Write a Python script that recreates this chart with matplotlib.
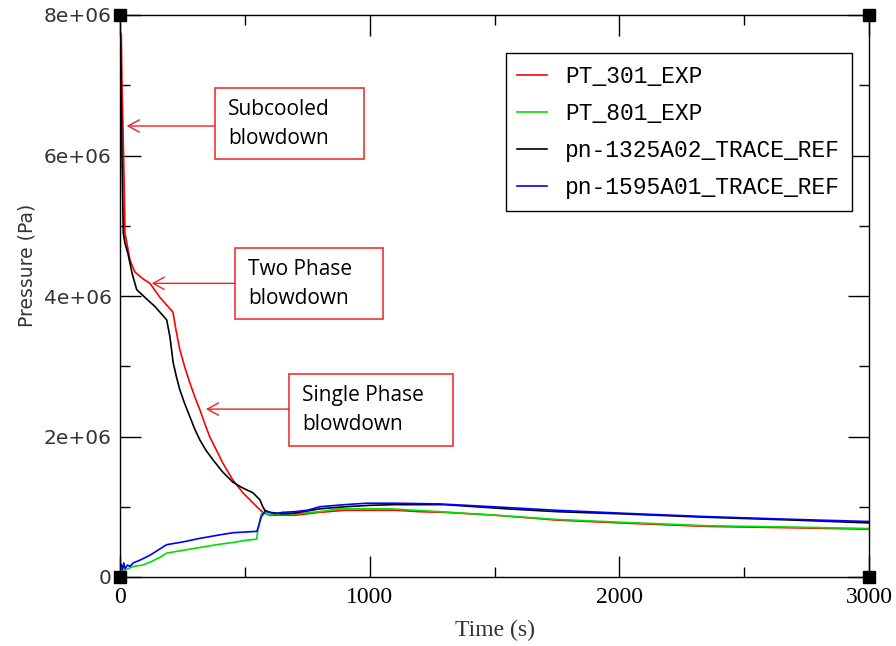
import numpy as np
import matplotlib
matplotlib.use("Agg")
import matplotlib.pyplot as plt
from matplotlib.ticker import MultipleLocator, FuncFormatter
from matplotlib.patches import Rectangle

# PT_301_EXP (Pa x 1e6)
t_pt301 = [0, 5, 8, 12, 16, 20, 40, 60, 90, 120, 160, 212, 225, 240, 260, 280, 300, 320, 340, 360,
           390, 412, 452, 492, 520, 548, 572, 600, 650, 700, 800, 900, 1000, 1100, 1200, 1300, 1500,
           1750, 2000, 2350, 2700, 3000]
p_pt301 = [7.74, 7.74, 7.0, 6.4, 5.7, 4.9, 4.51, 4.34, 4.25, 4.18, 3.98, 3.77, 3.5, 3.23, 2.98, 2.76,
           2.56, 2.38, 2.18, 1.99, 1.78, 1.62, 1.38, 1.2, 1.1, 1.0, 0.92, 0.88, 0.88, 0.88, 0.92, 0.95,
           0.95, 0.95, 0.93, 0.92, 0.88, 0.81, 0.77, 0.72, 0.70, 0.68]

# PT_801_EXP
t_pt801 = [0, 20, 53, 90, 120, 160, 187, 253, 320, 387, 450, 500, 548, 552, 560, 567, 600, 650, 700,
           800, 880, 1080, 1280, 1500, 1747, 2000, 2347, 2700, 3000]
p_pt801 = [0.05, 0.1, 0.15, 0.17, 0.21, 0.28, 0.34, 0.38, 0.42, 0.46, 0.49, 0.52, 0.54, 0.67, 0.8,
           0.91, 0.89, 0.89, 0.9, 0.93, 0.97, 0.97, 0.93, 0.88, 0.82, 0.78, 0.73, 0.71, 0.69]

# pn-1325A02_TRACE_REF
t_pn1325 = [0, 2, 5, 8, 13, 20, 32, 50, 67, 100, 140, 187, 200, 213, 226, 240, 260, 280, 300, 320,
            345, 372, 410, 452, 490, 532, 560, 572, 580, 600, 650, 700, 750, 800, 900, 1000, 1100,
            1300, 1550, 1750, 2000, 2350, 2700, 3000]
p_pn1325 = [7.8, 7.6, 6.8, 6.0, 4.9, 4.75, 4.6, 4.3, 4.09, 3.98, 3.85, 3.66, 3.42, 3.05, 2.85, 2.66,
            2.46, 2.28, 2.1, 1.95, 1.8, 1.67, 1.5, 1.35, 1.27, 1.2, 1.1, 1.0, 0.95, 0.92, 0.90, 0.91,
            0.94, 0.97, 1.0, 1.02, 1.03, 1.03, 0.97, 0.93, 0.90, 0.85, 0.81, 0.77]

# pn-1595A01_TRACE_REF
t_pn1595 = [0, 5, 10, 15, 20, 30, 40, 53, 80, 120, 160, 187, 220, 253, 320, 400, 452, 500, 548, 555,
            565, 580, 590, 620, 650, 700, 750, 800, 900, 987, 1100, 1280, 1547, 1747, 2000, 2347,
            2700, 3000]
p_pn1595 = [0.08, 0.18, 0.1, 0.2, 0.12, 0.17, 0.15, 0.2, 0.24, 0.31, 0.4, 0.46, 0.48, 0.5, 0.55, 0.6,
            0.63, 0.64, 0.65, 0.72, 0.85, 0.93, 0.93, 0.9, 0.92, 0.93, 0.95, 1.0, 1.03, 1.05, 1.05,
            1.04, 0.99, 0.95, 0.91, 0.86, 0.82, 0.79]

# anotacoes: texto, ponta da seta (t, p), caixa (t0, t1, p0, p1)
notas = ["Subcooled\nblowdown", "Two Phase\nblowdown", "Single Phase\nblowdown"]
setas = [(27, 6.42), (127, 4.18), (344, 2.39)]
caixas = [(380, 978, 5.95, 6.96), (460, 1054, 3.67, 4.68), (676, 1333, 1.87, 2.89)]

fig = plt.figure(figsize=(8.96, 6.46), dpi=100)
ax = fig.add_axes([120 / 896, 1 - 577 / 646, 749 / 896, 562 / 646])

ax.plot(t_pt301, np.array(p_pt301) * 1e6, color="#ff0000", lw=1.2, label="PT_301_EXP")
ax.plot(t_pt801, np.array(p_pt801) * 1e6, color="#00e000", lw=1.2, label="PT_801_EXP")
ax.plot(t_pn1325, np.array(p_pn1325) * 1e6, color="black", lw=1.2, label="pn-1325A02_TRACE_REF")
ax.plot(t_pn1595, np.array(p_pn1595) * 1e6, color="#0000ff", lw=1.2, label="pn-1595A01_TRACE_REF")

ax.set_xlim(0, 3000)
ax.set_ylim(0, 8e6)

# eixos e ticks
ax.xaxis.set_major_locator(MultipleLocator(1000))
ax.xaxis.set_minor_locator(MultipleLocator(500))
ax.yaxis.set_major_locator(MultipleLocator(2e6))
ax.yaxis.set_minor_locator(MultipleLocator(1e6))
ax.yaxis.set_major_formatter(FuncFormatter(lambda v, pos: "0" if v == 0 else f"{v:.0e}"))
ax.tick_params(which="both", direction="in", top=True, right=True, width=1, color="black")
ax.tick_params(which="major", length=15)
ax.tick_params(which="minor", length=7)
ax.tick_params(axis="x", pad=7)
ax.tick_params(axis="y", pad=6)
for lab in ax.get_xticklabels():
    lab.set_fontfamily("Liberation Serif")
    lab.set_fontsize(17)
for lab in ax.get_yticklabels():
    lab.set_fontfamily("DejaVu Sans")
    lab.set_fontsize(14.5)
    lab.set_color("#333333")
for s in ax.spines.values():
    s.set_linewidth(1)

ax.set_xlabel("Time (s)", fontfamily="Liberation Serif", fontsize=17, color="#333333", labelpad=9)
ax.set_ylabel("Pressure (Pa)", fontfamily="DejaVu Sans", fontsize=13.5, color="#333333")
ax.yaxis.set_label_coords(-0.112, 0.555)

# quadrados pretos nos cantos
ax.plot([0, 1, 0, 1], [0, 0, 1, 1], "s", color="black", ms=8, transform=ax.transAxes, clip_on=False)

# legenda
leg = ax.legend(loc="upper right", bbox_to_anchor=(0.977, 0.932), prop={"family": "Liberation Mono", "size": 16.5},
                fancybox=False, edgecolor="black", framealpha=1, handlelength=1.3, handletextpad=0.8,
                labelspacing=0.62, borderpad=0.5, borderaxespad=0)
leg.get_frame().set_linewidth(1)

# caixas vermelhas com setas
for txt, (ta, pa), (x0, x1, y0, y1) in zip(notas, setas, caixas):
    ax.add_patch(Rectangle((x0, y0 * 1e6), x1 - x0, (y1 - y0) * 1e6, fill=False, edgecolor="#ee3333", lw=1.2))
    ax.text(x0 + 52, (y0 + y1) / 2 * 1e6, txt, fontfamily="Open Sans", fontsize=15, va="center", ha="left",
            linespacing=1.5)
    ax.annotate("", xy=(ta, pa * 1e6), xytext=(x0, pa * 1e6),
                arrowprops=dict(arrowstyle="->,head_length=0.4,head_width=0.22", color="#ee2222", lw=1,
                                shrinkA=0, shrinkB=0, mutation_scale=20))

fig.savefig("out.png", dpi=100)
